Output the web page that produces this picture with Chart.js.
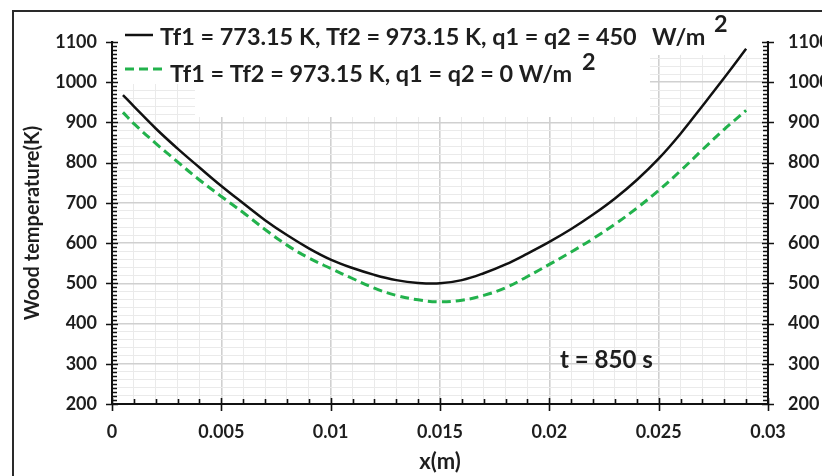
<!DOCTYPE html>
<html><head><meta charset="utf-8">
<script src="https://cdn.jsdelivr.net/npm/chart.js@4.4.1/dist/chart.umd.min.js"></script>
<style>html,body{margin:0;padding:0;background:#fff;}#wrap{width:822px;height:476px;position:relative}</style>
</head><body><div id="wrap"><canvas id="c" width="822" height="476"></canvas></div>
<script>
// ---- data ----
const xValues = [0.0005,0.001,0.002,0.003,0.004,0.005,0.006,0.007,0.008,0.009,0.010,0.011,0.012,0.013,0.014,0.015,0.016,0.017,0.018,0.019,0.020,0.021,0.022,0.023,0.024,0.025,0.026,0.027,0.028,0.029];
const blackTemps = [968,940,885,835,788,742,699,657,620,587,559,538,521,508,501,500,508,525,547,574,603,635,671,711,757,810,872,941,1011,1083];
const greenTemps = [925,897,848,802,757,716,676,634,595,563,537,512,488,470,459,454,458,470,489,517,547,578,611,647,687,731,780,832,883,930];
const xTickLabels = ['0','0.005','0.01','0.015','0.02','0.025','0.03'];
const yTickLabels = ['200','300','400','500','600','700','800','900','1000','1100'];
const seriesLabels = ['Tf1 = 773.15 K, Tf2 = 973.15 K, q1 = q2 = 450', 'Tf1 = Tf2 = 973.15 K, q1 = q2 = 0 W/m'];
const unitText = 'W/m';
const supText = '2';
const annotationText = 't = 850 s';
const xTitle = 'x(m)';
const yTitle = 'Wood temperature(K)';

const FONT = 'Lato, "Open Sans", sans-serif';
const TXT = '#1e1e1e';
const GREEN = '#22b24c';

const decor = {
  id: 'decor',
  beforeDatasetsDraw(chart) {
    const ctx = chart.ctx; const a = chart.chartArea;
    ctx.save(); ctx.fillStyle = '#fff';
    ctx.fillRect(195, a.top - 1, 455, 118 - a.top);
    ctx.fillRect(a.left + 2, a.top - 1, 195 - a.left - 2, 85 - a.top);
    ctx.fillRect(650, a.top - 1, a.right - 652, 56 - a.top);
    ctx.restore();
  },
  afterDraw(chart) {
    const ctx = chart.ctx; const a = chart.chartArea;
    const xs = chart.scales.x, ys = chart.scales.y;
    ctx.save();
    ctx.strokeStyle = '#111'; ctx.lineWidth = 1.6;
    ctx.beginPath();
    for (let k = 200; k <= 1100; k += 10) {
      const py = Math.round(ys.getPixelForValue(k)) + 0.5;
      if (k % 100 === 0) {
        ctx.moveTo(a.left - 6, py); ctx.lineTo(a.left + 6, py);
        ctx.moveTo(a.right - 6, py); ctx.lineTo(a.right + 6, py);
      } else {
        ctx.moveTo(a.left, py); ctx.lineTo(a.left + 5, py);
        ctx.moveTo(a.right - 5, py); ctx.lineTo(a.right, py);
      }
    }
    for (let k = 0; k <= 30; k++) {
      const px = Math.round(xs.getPixelForValue(k / 1000)) + 0.5;
      if (k % 5 === 0) { ctx.moveTo(px, a.bottom - 6); ctx.lineTo(px, a.bottom + 7); }
      else { ctx.moveTo(px, a.bottom - 5); ctx.lineTo(px, a.bottom); }
    }
    ctx.stroke();
    ctx.strokeStyle = '#2a2a2a'; ctx.lineWidth = 2;
    ctx.beginPath(); ctx.moveTo(13, 476); ctx.lineTo(13, 11); ctx.lineTo(822, 11); ctx.stroke();
    ctx.fillStyle = TXT; ctx.textBaseline = 'alphabetic'; ctx.textAlign = 'left';
    ctx.font = `bold 20px ${FONT}`;
    const w0 = ctx.measureText(seriesLabels[0]).width;
    const fs = 20 * 477 / w0;
    ctx.font = `bold ${fs}px ${FONT}`;
    ctx.fillText(seriesLabels[0], 160, 45);
    ctx.fillText(unitText, 652, 45);
    ctx.fillText(supText, 714, 32);
    ctx.fillText(seriesLabels[1], 170, 82);
    ctx.fillText(supText, 582, 70);
    ctx.lineWidth = 2.5; ctx.strokeStyle = '#111';
    ctx.beginPath(); ctx.moveTo(125, 35); ctx.lineTo(153, 35); ctx.stroke();
    ctx.lineWidth = 3; ctx.strokeStyle = GREEN; ctx.setLineDash([9, 5]);
    ctx.beginPath(); ctx.moveTo(125, 69); ctx.lineTo(162, 69); ctx.stroke();
    ctx.setLineDash([]);
    ctx.font = `bold 20px ${FONT}`;
    const w1 = ctx.measureText(annotationText).width;
    ctx.font = `bold ${20 * 93 / w1}px ${FONT}`;
    ctx.fillText(annotationText, 560, 368);
    ctx.restore();
  }
};

function draw() {
  new Chart(document.getElementById('c'), {
    type: 'line',
    data: {
      datasets: [
        { label: seriesLabels[0], data: xValues.map((x, i) => ({ x, y: blackTemps[i] })),
          borderColor: '#111', borderWidth: 2.5, pointRadius: 0, fill: false, tension: 0.4 },
        { label: seriesLabels[1], data: xValues.map((x, i) => ({ x, y: greenTemps[i] })),
          borderColor: GREEN, borderWidth: 3, borderDash: [9, 5], pointRadius: 0, fill: false, tension: 0.4 }
      ]
    },
    options: {
      responsive: false, animation: false, devicePixelRatio: 1,
      layout: { padding: { top: 42, left: 0, right: 0, bottom: 0 } },
      plugins: { legend: { display: false }, tooltip: { enabled: false } },
      scales: {
        x: {
          type: 'linear', position: 'bottom', min: 0, max: 0.03,
          afterFit: s => { s.height = 72; },
          ticks: { stepSize: 0.001, autoSkip: false, maxRotation: 0, padding: 17, color: TXT,
            font: { family: FONT, size: 18, weight: 'bold' },
            callback: v => { const k = Math.round(v * 1000); return k % 5 === 0 ? xTickLabels[k / 5] : ''; } },
          grid: { drawTicks: false,
            color: c => (Math.round(c.tick.value * 1000) % 5 === 0 ? '#d0d0d0' : '#eaeaea'),
            lineWidth: c => (Math.round(c.tick.value * 1000) % 5 === 0 ? 1.6 : 1) },
          border: { display: true, color: '#111', width: 2 },
          title: { display: true, text: xTitle, color: TXT, font: { family: FONT, size: 22, weight: 'bold' }, padding: { top: 0, bottom: 1 } }
        },
        y: {
          type: 'linear', position: 'left', min: 200, max: 1100,
          afterFit: s => { s.width = 112; },
          ticks: { stepSize: 20, autoSkip: false, padding: 15, color: TXT,
            font: { family: FONT, size: 18, weight: 'bold' },
            callback: v => { const k = Math.round(v); return k % 100 === 0 ? yTickLabels[(k - 200) / 100] : ''; } },
          grid: { drawTicks: false,
            color: c => (Math.round(c.tick.value) % 100 === 0 ? '#d0d0d0' : '#eaeaea'),
            lineWidth: c => (Math.round(c.tick.value) % 100 === 0 ? 1.6 : 1) },
          border: { display: true, color: '#111', width: 2 },
          title: { display: true, text: yTitle, color: TXT, font: { family: FONT, size: 20, weight: 'bold' }, padding: { top: 21, bottom: 0 } }
        },
        y2: {
          type: 'linear', position: 'right', min: 200, max: 1100,
          afterFit: s => { s.width = 54; },
          ticks: { stepSize: 100, autoSkip: false, padding: 20, color: TXT,
            font: { family: FONT, size: 18, weight: 'bold' },
            callback: v => yTickLabels[(Math.round(v) - 200) / 100] },
          grid: { drawOnChartArea: false, drawTicks: false },
          border: { display: true, color: '#111', width: 2 }
        }
      }
    },
    plugins: [decor]
  });
}
if (document.fonts && document.fonts.load) {
  Promise.all([document.fonts.load(`bold 16px Lato`)]).then(draw, draw);
} else draw();
</script>
</body></html>
